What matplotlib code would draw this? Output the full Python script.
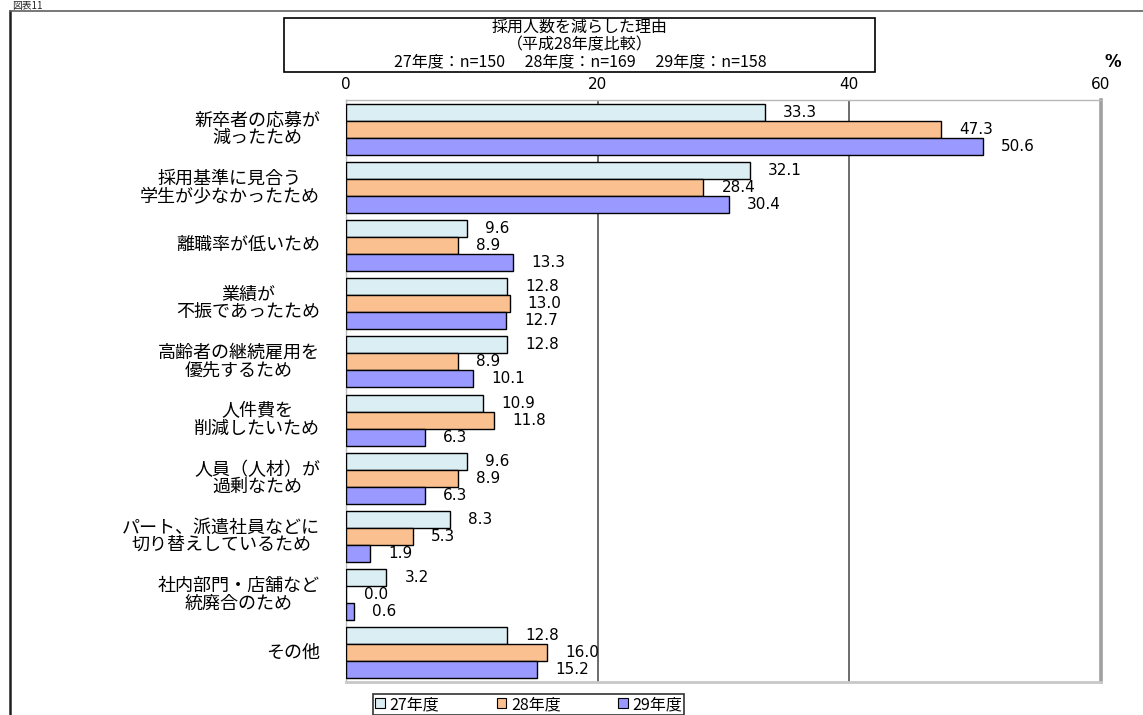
import matplotlib
matplotlib.use("Agg")
import matplotlib.pyplot as plt
from matplotlib.patches import Patch, Rectangle
from matplotlib.lines import Line2D
import matplotlib.transforms as mtransforms
import numpy as np

plt.rcParams['font.family'] = ['Noto Sans CJK JP', 'DejaVu Sans']

categories = [
    "新卒者の応募が\n減ったため",
    "採用基準に見合う\n学生が少なかったため",
    "離職率が低いため",
    "業績が\n不振であったため",
    "高齢者の継続雇用を\n優先するため",
    "人件費を\n削減したいため",
    "人員（人材）が\n過剰なため",
    "パート、派遣社員などに\n切り替えしているため",
    "社内部門・店舗など\n統廃合のため",
    "その他",
]
series_names = ["27年度", "28年度", "29年度"]
values_h27 = [33.3, 32.1, 9.6, 12.8, 12.8, 10.9, 9.6, 8.3, 3.2, 12.8]
values_h28 = [47.3, 28.4, 8.9, 13.0, 8.9, 11.8, 8.9, 5.3, 0.0, 16.0]
values_h29 = [50.6, 30.4, 13.3, 12.7, 10.1, 6.3, 6.3, 1.9, 0.6, 15.2]
x_ticks = [0, 20, 40, 60]
title_lines = ["採用人数を減らした理由", "（平成28年度比較）",
               "27年度：n=150　 28年度：n=169　 29年度：n=158"]

colors = ["#DAEEF3", "#FAC090", "#9999FF"]

W, H = 1143, 715
fig = plt.figure(figsize=(W / 100, H / 100), dpi=100)

def fx(px):
    return px / W

def fy(py):
    return 1 - py / H

# outer frame
fig.add_artist(Line2D([fx(10), fx(10)], [fy(11), fy(715)], color="#202020", lw=1.8))
fig.add_artist(Line2D([fx(10), fx(1143)], [fy(11), fy(11)], color="#606060", lw=1.2))
fig.text(fx(12), fy(0.5), "図表11", fontsize=7, ha="left", va="top", color="#222222")

ax = fig.add_axes([fx(346), fy(682), fx(1101) - fx(346), fy(100) - fy(682)])

y = np.arange(len(categories))
bh = 0.292
series = [values_h27, values_h28, values_h29]
for k, (vals, c) in enumerate(zip(series, colors)):
    pos = y + (k - 1) * bh
    ax.barh(pos, vals, height=bh, color=c, edgecolor="black", linewidth=1.0,
            zorder=3, label=series_names[k])
    for p, v in zip(pos, vals):
        ax.annotate(f"{v:.1f}", xy=(v, p), xytext=(13, 0), textcoords="offset points",
                    ha="left", va="center", fontsize=11, family="DejaVu Sans",
                    color="black", zorder=4)

ax.set_xlim(0, 60)
ax.set_ylim(len(categories) - 0.5, -0.5)
ax.set_xticks(x_ticks)
ax.set_xticklabels([str(t) for t in x_ticks], family="DejaVu Sans", fontsize=11)
ax.xaxis.tick_top()
ax.tick_params(axis="x", length=0, pad=6)
ax.set_yticks([])
for xv in x_ticks[1:-1]:
    ax.axvline(xv, color="#606060", lw=1.3, zorder=1)

for s in ["top", "left"]:
    ax.spines[s].set_color("#b8b8b8")
    ax.spines[s].set_linewidth(1.0)
ax.spines["right"].set_color("#a0a0a0")
ax.spines["right"].set_linewidth(2.6)
ax.spines["bottom"].set_color("#c8c8c8")
ax.spines["bottom"].set_linewidth(2.0)

label_tr = mtransforms.blended_transform_factory(fig.transFigure, ax.transData)
for i, lab in enumerate(categories):
    ax.text(fx(320), i, lab, transform=label_tr, ha="right", va="center",
            multialignment="center", fontsize=13, linespacing=0.95)

fig.text(fx(1113), fy(62), "%", ha="center", va="center", fontsize=12,
         family="DejaVu Sans", fontweight="bold")

# title box
fig.add_artist(Rectangle((fx(284), fy(72)), fx(875) - fx(284), fy(18) - fy(72),
                         transform=fig.transFigure, fill=False, edgecolor="black", lw=1.2))
for j, t in enumerate(title_lines):
    fig.text(fx(580), fy(27 + 17.5 * j), t, ha="center", va="center", fontsize=11.5)

handles = [Patch(facecolor=c, edgecolor="black", linewidth=0.8) for c in colors]
leg = fig.legend(handles, series_names, loc="upper left",
                 bbox_to_anchor=(fx(373), fy(694)), ncol=3, frameon=True,
                 fancybox=False, edgecolor="black", fontsize=11.5,
                 handlelength=0.6, handleheight=0.6, handletextpad=0.3,
                 columnspacing=3.6, borderpad=0.12, borderaxespad=0)
leg.get_frame().set_linewidth(1.2)

fig.savefig("out.png", dpi=100)
